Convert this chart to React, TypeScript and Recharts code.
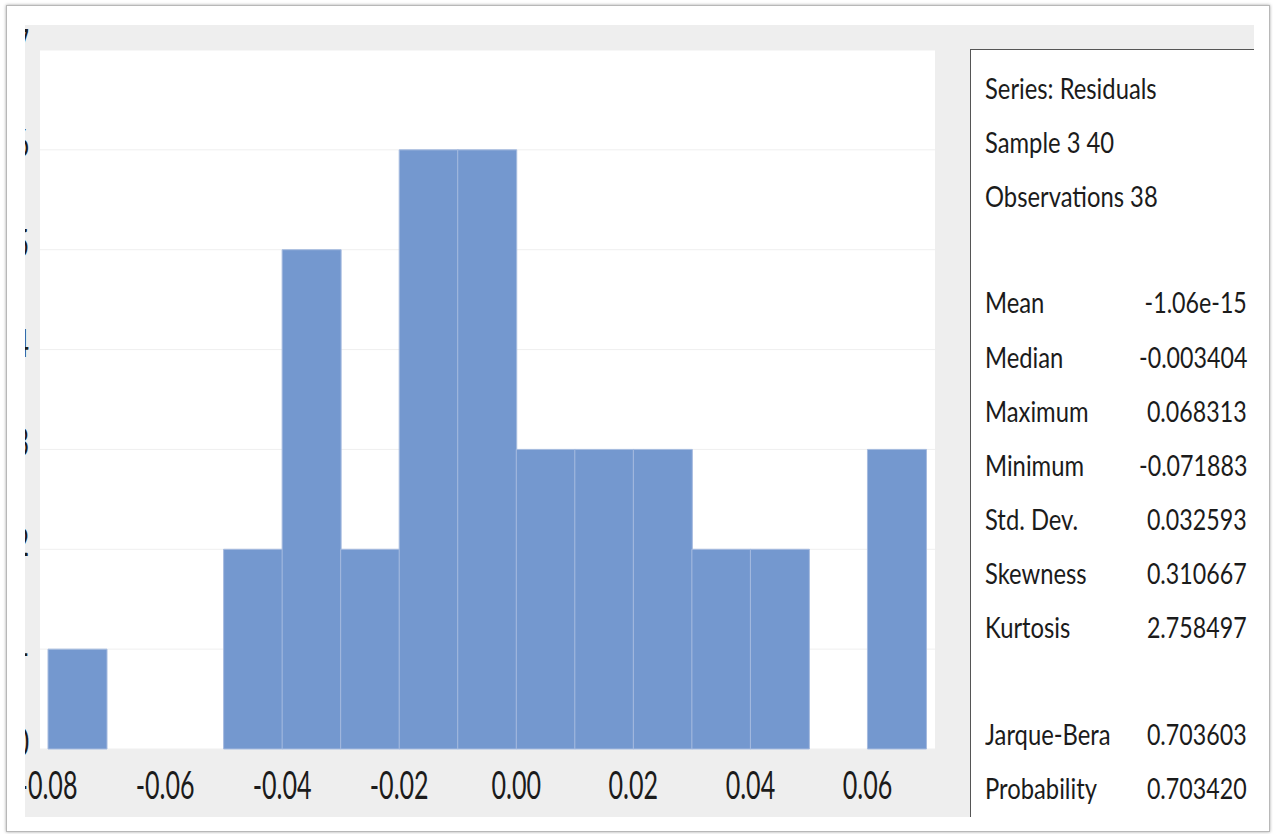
import React from 'react';
import { BarChart, Bar, XAxis, YAxis, CartesianGrid } from 'recharts';

const binStarts = [-0.08, -0.07, -0.06, -0.05, -0.04, -0.03, -0.02, -0.01, 0.0, 0.01, 0.02, 0.03, 0.04, 0.05, 0.06];
const binCounts = [1, 0, 0, 2, 5, 2, 6, 6, 3, 3, 3, 2, 2, 0, 3];
const xTickValues = ['-0.08', '-0.06', '-0.04', '-0.02', '0.00', '0.02', '0.04', '0.06'];
const yTickValues = [0, 1, 2, 3, 4, 5, 6, 7];

const headerLines = ['Series: Residuals', 'Sample 3 40', 'Observations 38'];
const statLabels = ['Mean', 'Median', 'Maximum', 'Minimum', 'Std. Dev.', 'Skewness', 'Kurtosis'];
const statValues = ['-1.06e-15', '-0.003404', '0.068313', '-0.071883', '0.032593', '0.310667', '2.758497'];
const testLabels = ['Jarque-Bera', 'Probability'];
const testValues = ['0.703603', '0.703420'];

const FONT = 'Lato, "Open Sans", sans-serif';
const TEXT_COLOR = '#1b1b1b';

const data = binStarts.map((b, i) => ({ bin: b.toFixed(2), count: binCounts[i] }));

function XTick(props: any) {
  const { x, payload, index } = props;
  const label = String(payload.value);
  if (!xTickValues.includes(label)) return <g />;
  const half = payload.offset || 0;
  const left = x - half;
  const id = `xclip-${index}`;
  return (
    <g clipPath={`url(#${id})`}>
      <defs>
        <clipPath id={id}>
          <rect x={25} y={700} width={1000} height={134} />
        </clipPath>
      </defs>
      <text
        transform={`translate(${left},799) scale(0.66,1)`}
        textAnchor="middle"
        fontSize={38}
        fontFamily={FONT}
        fill={TEXT_COLOR}
      >
        {label}
      </text>
    </g>
  );
}

function YTick(props: any) {
  const { x, y, payload, index } = props;
  const id = `yclip-${index}`;
  return (
    <g clipPath={`url(#${id})`}>
      <defs>
        <clipPath id={id}>
          <rect x={25} y={y - 60} width={100} height={120} />
        </clipPath>
      </defs>
      <text
        transform={`translate(${x - 11},${y + 7}) scale(0.66,1)`}
        textAnchor="end"
        fontSize={38}
        fontFamily={FONT}
        fill={TEXT_COLOR}
      >
        {String(payload.value)}
      </text>
    </g>
  );
}

const lineStyleBase: React.CSSProperties = {
  position: 'absolute',
  fontFamily: FONT,
  fontSize: 29,
  lineHeight: '30px',
  height: 30,
  color: TEXT_COLOR,
  whiteSpace: 'nowrap',
};

function LeftText({ text, cy }: { text: string; cy: number }) {
  return (
    <div style={{ ...lineStyleBase, left: 985, top: cy - 15, transform: 'scaleX(0.82)', transformOrigin: 'left center' }}>
      {text}
    </div>
  );
}

function RightText({ text, cy }: { text: string; cy: number }) {
  return (
    <div
      style={{
        ...lineStyleBase,
        right: 1273 - 1247,
        top: cy - 15,
        textAlign: 'right',
        transform: 'scaleX(0.8)',
        transformOrigin: 'right center',
      }}
    >
      {text}
    </div>
  );
}

const headerY = [88, 142, 196];
const statY = [302, 357, 411, 465, 519, 573, 627];
const testY = [734, 788];

export default function App() {
  return (
    <div style={{ position: 'absolute', left: 0, top: 0, width: 1273, height: 834, background: '#ffffff', overflow: 'hidden' }}>
      <div
        style={{
          position: 'absolute',
          left: 6,
          top: 5,
          width: 1262,
          height: 825,
          border: '1px solid #b8b8b8',
          boxShadow: '0 0 3px rgba(0,0,0,0.35)',
          background: '#ffffff',
        }}
      />
      <div style={{ position: 'absolute', left: 25, top: 25, width: 1229, height: 792, background: '#eeeeee' }} />
      <div
        style={{
          position: 'absolute',
          left: 970,
          top: 49,
          width: 284,
          height: 768,
          background: '#ffffff',
          borderLeft: '1.5px solid #555555',
          borderTop: '1.5px solid #555555',
          boxSizing: 'border-box',
        }}
      />
      <div style={{ position: 'absolute', left: 0, top: 0 }}>
        <BarChart
          width={960}
          height={834}
          data={data}
          margin={{ top: 50, right: 25, bottom: 0, left: 25 }}
          barCategoryGap={0}
          barGap={0}
        >
          <CartesianGrid vertical={false} stroke="#efefef" fill="#ffffff" />
          <XAxis
            dataKey="bin"
            type="category"
            padding={{ left: 8, right: 9 }}
            axisLine={false}
            tickLine={false}
            tickSize={0}
            tickMargin={0}
            height={85}
            interval={0}
            tick={(p: any) => <XTick {...p} />}
          />
          <YAxis
            type="number"
            domain={[0, 7]}
            ticks={yTickValues}
            width={15}
            axisLine={false}
            tickLine={false}
            tickSize={0}
            tickMargin={0}
            interval={0}
            tick={(p: any) => <YTick {...p} />}
          />
          <Bar dataKey="count" fill="#7498cf" stroke="#a6bbdf" strokeWidth={1} isAnimationActive={false} />
        </BarChart>
      </div>
      {headerLines.map((t, i) => (
        <LeftText key={`h${i}`} text={t} cy={headerY[i]} />
      ))}
      {statLabels.map((t, i) => (
        <LeftText key={`sl${i}`} text={t} cy={statY[i]} />
      ))}
      {statValues.map((t, i) => (
        <RightText key={`sv${i}`} text={t} cy={statY[i]} />
      ))}
      {testLabels.map((t, i) => (
        <LeftText key={`tl${i}`} text={t} cy={testY[i]} />
      ))}
      {testValues.map((t, i) => (
        <RightText key={`tv${i}`} text={t} cy={testY[i]} />
      ))}
    </div>
  );
}
